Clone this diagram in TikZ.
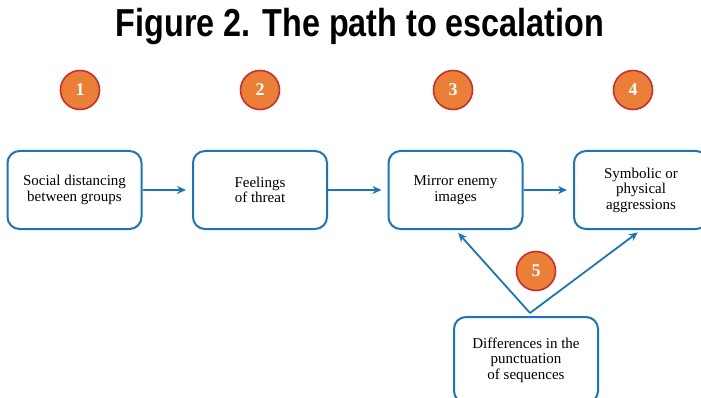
\documentclass[tikz,border=0pt]{standalone}
\usepackage{fontspec}
\setmainfont{Liberation Serif}
\newfontfamily\titlefont{Liberation Sans}[FakeStretch=0.83]
\usetikzlibrary{shapes, arrows.meta, positioning, calc}

\definecolor{flowblue}{HTML}{1A75BC}
\definecolor{badgeorange}{HTML}{EC7F37}
\definecolor{badgered}{HTML}{C8302E}

\begin{document}
\begin{tikzpicture} [
    x=1pt, y=-1pt,
    stage/.style={rectangle, draw=flowblue, line width=2pt, fill=white, minimum width=134pt, minimum height=78pt, font=\fontsize{15}{15.5}\selectfont, align=center, rounded corners=12pt, inner sep=2pt},
    badge/.style={circle, draw=badgered, line width=1.6pt, fill=badgeorange, minimum size=39pt, inner sep=0pt, text=white, font=\fontsize{18}{18}\selectfont\bfseries},
    arrow/.style={-{Stealth[length=9pt, width=8pt]}, line width=1.8pt, draw=flowblue}
]

\useasboundingbox (0,0) rectangle (701,398);

% LAYER 1: Title and step numbers
\node[font=\titlefont\bfseries\fontsize{39}{39}\selectfont] (title) at (360,27) {Figure 2. The path to escalation};

\node[badge] (num1) at (80,90) {1};
\node[badge] (num2) at (260,90) {2};
\node[badge] (num3) at (453,90) {3};
\node[badge] (num4) at (633,90) {4};
\node[badge] (num5) at (536,271) {5};

% LAYER 2: Stages
\node[stage] (social) at (74.5,190) {Social distancing\\between groups};
\node[stage] (threat) at (260,190) {Feelings\\of threat};
\node[stage] (mirror) at (455.5,190) {Mirror enemy\\images};
\node[stage] (aggress) at (641,190) {Symbolic or\\physical\\aggressions};
\node[stage, minimum width=144pt, minimum height=86pt] (punct) at (526,360) {Differences in the\\punctuation\\of sequences};

% LAYER 3: Connections
\draw[arrow, shorten >=6pt] (social) -- (threat);
\draw[arrow, shorten >=6pt] (threat) -- (mirror);
\draw[arrow, shorten >=6pt] (mirror) -- (aggress);

\coordinate (apex) at ($(punct.north)+(4,-3)$);
\draw[arrow, shorten >=4pt] (apex) -- (mirror.south);
\draw[arrow, shorten >=4pt] (apex) -- (aggress.south);

\end{tikzpicture}
\end{document}
